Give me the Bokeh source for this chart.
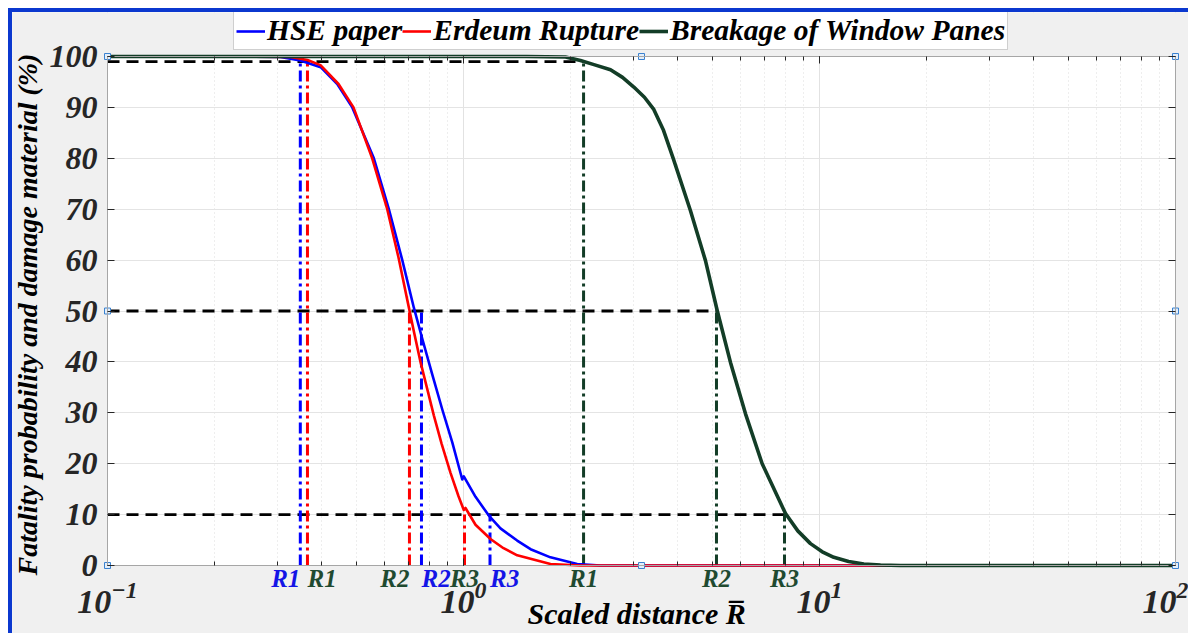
import math
from bokeh.plotting import figure
from bokeh.models import (Range1d, FixedTicker, LogAxis, LinearAxis,
                          Label, Legend, LegendItem, BoxAnnotation)
from bokeh.core.properties import value
from bokeh.embed import file_html
from bokeh.resources import INLINE

# Scaled distance (x) and probability in % (y) for each model
hse_r = [0.1, 0.2, 0.306, 0.348, 0.397, 0.442, 0.487, 0.560, 0.617, 0.673,
         0.725, 0.767, 0.818, 0.873, 0.930, 0.992, 1.002, 1.081, 1.178,
         1.270, 1.415, 1.543, 1.755, 2.086, 2.426, 100]
hse_p = [100, 100, 99.9, 99.2, 97.9, 94.6, 90.0, 80.0, 70.0, 60.0,
         50.7, 44.4, 37.4, 30.5, 24.2, 16.9, 17.5, 13.5, 9.8,
         7.3, 4.9, 3.2, 1.6, 0.3, 0.0, 0.0]

erd_r = [0.1, 0.2, 0.327, 0.3645, 0.3965, 0.4456, 0.4909, 0.554, 0.6106,
         0.6568, 0.6984, 0.7237, 0.7571, 0.8253, 0.8673, 0.9194, 0.9683,
         1.0019, 1.013, 1.0807, 1.1907, 1.2955, 1.4154, 1.7551, 2.1312, 100]
erd_p = [100, 100, 99.9, 99.3, 98.3, 94.6, 90.0, 80.0, 70.0,
         60.5, 51.5, 46.3, 40.0, 29.5, 24.0, 18.2, 13.6,
         10.9, 11.3, 8.0, 5.2, 3.4, 2.0, 0.3, 0.0, 0.0]

win_r = [0.1, 1.5, 1.934, 2.131, 2.325, 2.588, 2.797, 3.009, 3.223, 3.424,
         3.646, 3.882, 4.341, 4.783, 5.160, 5.623, 6.197, 6.902, 8.027,
         8.691, 9.434, 10.18, 10.97, 12.07, 13.32, 14.84, 16.89, 100]
win_p = [100, 100, 99.9, 99.2, 98.4, 97.4, 95.9, 94.0, 92.0, 89.6,
         85.5, 80.0, 69.7, 59.9, 50.1, 39.9, 29.8, 20.0, 10.2,
         6.8, 4.3, 2.7, 1.6, 0.8, 0.3, 0.1, 0.0, 0.0]

# Threshold levels (%) and the distances R1..R3 where each model reaches them
levels = [99, 50, 10]
hse_R = [0.348, 0.762, 1.187]
erd_R = [0.3645, 0.705, 1.0065]
win_R = [2.174, 5.136, 7.974]
r_names = ["R1", "R2", "R3"]

y_ticks = [0, 10, 20, 30, 40, 50, 60, 70, 80, 90, 100]
X_MIN, X_MAX = 0.1, 100
Y_MIN, Y_MAX = 0, 100

BLUE = "#0000ff"
RED = "#ff0000"
GREEN = "#133d27"
LBL_BLUE = "#1414e6"
LBL_GREEN = "#1f4a30"
FONT = "Liberation Serif"
PANEL_BG = "#f0f0f0"
AX_LINE = "#a6a6a6"
TICK = "#262626"

# canvas size and the margins (px) around the axes box
W, H = 1180, 625
M_LEFT, M_RIGHT, M_TOP, M_BOTTOM = 95, 17, 44, 72

# the frame fills the canvas; extend the ranges so the axes box sits inside it
px_per_decade = (W - M_LEFT - M_RIGHT) / (math.log10(X_MAX) - math.log10(X_MIN))
x_lo = 10 ** (math.log10(X_MIN) - M_LEFT / px_per_decade)
x_hi = 10 ** (math.log10(X_MAX) + M_RIGHT / px_per_decade)
px_per_unit = (H - M_TOP - M_BOTTOM) / (Y_MAX - Y_MIN)
y_lo = Y_MIN - M_BOTTOM / px_per_unit
y_hi = Y_MAX + M_TOP / px_per_unit

p = figure(width=W, height=H, x_axis_type="log",
           x_range=Range1d(x_lo, x_hi), y_range=Range1d(y_lo, y_hi),
           output_backend="svg", toolbar_location=None,
           min_border=0, min_border_left=0, min_border_right=0,
           min_border_top=0, min_border_bottom=0)
p.styles = {"border-top": "4px solid #0b38cf", "border-left": "4px solid #0b38cf",
            "margin-top": "8px", "margin-left": "8px"}

p.background_fill_color = PANEL_BG
p.border_fill_color = PANEL_BG
p.outline_line_color = None

# white axes box below the grid, grey margins above the grid
axes_box = BoxAnnotation(left=X_MIN, right=X_MAX, bottom=Y_MIN, top=Y_MAX,
                         fill_color="white", fill_alpha=1, line_color=None,
                         level="underlay")
covers = [BoxAnnotation(right=X_MIN, fill_color=PANEL_BG, fill_alpha=1,
                        line_color=None, level="underlay"),
          BoxAnnotation(left=X_MAX, fill_color=PANEL_BG, fill_alpha=1,
                        line_color=None, level="underlay"),
          BoxAnnotation(bottom=Y_MAX, fill_color=PANEL_BG, fill_alpha=1,
                        line_color=None, level="underlay"),
          BoxAnnotation(top=Y_MIN, fill_color=PANEL_BG, fill_alpha=1,
                        line_color=None, level="underlay")]
p.center = [axes_box] + list(p.center) + covers

# grids
p.xgrid.grid_line_color = "#e2e2e2"
p.xgrid.minor_grid_line_color = "#dcdcdc"
p.xgrid.minor_grid_line_dash = "1 3"
p.ygrid.grid_line_color = "#e4e4e4"

# axes pinned to the edges of the axes box
xax = p.xaxis[0]
yax = p.yaxis[0]
xax.fixed_location = Y_MIN
xax.bounds = (X_MIN, X_MAX)
yax.fixed_location = X_MIN
yax.bounds = (Y_MIN, Y_MAX)
yax.ticker = FixedTicker(ticks=y_ticks)
p.ygrid.ticker = FixedTicker(ticks=y_ticks)

for ax in (xax, yax):
    ax.axis_line_color = AX_LINE
    ax.major_tick_line_color = TICK
    ax.minor_tick_line_color = TICK
    ax.major_tick_in = 7
    ax.major_tick_out = 0
    ax.minor_tick_in = 4
    ax.minor_tick_out = 0
    ax.major_label_text_font = FONT
    ax.major_label_text_font_style = "bold italic"
    ax.major_label_text_color = TICK

yax.major_label_text_font_size = "32px"
yax.major_label_standoff = 10
yax.axis_label = "Fatality probability  and damage material (%)"
yax.axis_label_text_font = FONT
yax.axis_label_text_font_style = "bold italic"
yax.axis_label_text_font_size = "28px"
yax.axis_label_text_color = "black"
yax.axis_label_standoff = 4
yax.minor_tick_line_color = None

xax.major_label_text_font_size = "34px"
xax.major_label_standoff = 16

# box ticks on the top and right edges (labels hidden)
top_ax = LogAxis(ticker=xax.ticker, fixed_location=Y_MAX, bounds=(X_MIN, X_MAX),
                 major_label_text_font_size="1px", major_label_text_alpha=0,
                 axis_line_color=AX_LINE, major_tick_line_color=TICK,
                 minor_tick_line_color=TICK, major_tick_in=7, major_tick_out=0,
                 minor_tick_in=4, minor_tick_out=0, major_label_standoff=0)
p.add_layout(top_ax, "above")
right_ax = LinearAxis(ticker=FixedTicker(ticks=y_ticks), fixed_location=X_MAX,
                      bounds=(Y_MIN, Y_MAX),
                      major_label_text_font_size="1px", major_label_text_alpha=0,
                      axis_line_color=AX_LINE, major_tick_line_color=TICK,
                      major_tick_in=7, major_tick_out=0, minor_tick_line_color=None,
                      major_label_standoff=0)
p.add_layout(right_ax, "right")

# threshold guide lines (horizontal, black dashed)
p.segment(x0=[X_MIN] * 3, y0=levels, x1=win_R, y1=levels,
          line_color="black", line_width=2.8, line_dash="12 7")

# vertical dash-dot markers
DASHDOT = "11 4 3 4"
p.segment(x0=hse_R, y0=[0] * 3, x1=hse_R, y1=levels,
          line_color=BLUE, line_width=3, line_dash=DASHDOT)
p.segment(x0=erd_R, y0=[0] * 3, x1=erd_R, y1=levels,
          line_color=RED, line_width=3, line_dash=DASHDOT)
p.segment(x0=win_R, y0=[0] * 3, x1=win_R, y1=levels,
          line_color=GREEN, line_width=3, line_dash=DASHDOT)

# probability curves
r_hse = p.line(hse_r, hse_p, line_color=BLUE, line_width=2.6, line_join="round")
r_erd = p.line(erd_r, erd_p, line_color=RED, line_width=2.6, line_join="round")
r_win = p.line(win_r, win_p, line_color=GREEN, line_width=3.6, line_join="round")

# small selection handles at the corners and edge midpoints of the axes box
x_mid = math.sqrt(X_MIN * X_MAX)
hx = [X_MIN, x_mid, X_MAX, X_MIN, X_MAX, X_MIN, x_mid, X_MAX]
hy = [Y_MAX, Y_MAX, Y_MAX, (Y_MIN + Y_MAX) / 2, (Y_MIN + Y_MAX) / 2, Y_MIN, Y_MIN, Y_MIN]
p.scatter(hx, hy, marker="square", size=6, fill_color="#e3eefa",
          line_color="#3b82d0", line_width=1)

# R labels just under the x axis
def r_label(x, text, color, align):
    p.text(x=[x], y=[Y_MIN], text=[text], y_offset=13, text_color=color,
           text_align=align, text_baseline="middle", text_font=value(FONT),
           text_font_style="bold italic", text_font_size="25px")

for i, name in enumerate(r_names):
    r_label(hse_R[i], name, LBL_BLUE, "right" if i == 0 else "left")
    r_label(erd_R[i], name, LBL_GREEN, ["left", "right", "center"][i])
    r_label(win_R[i], name, LBL_GREEN, "center")

# x-axis title
p.add_layout(Label(x=515, y=24, x_units="screen", y_units="screen",
                   text="Scaled distance R\u0305", text_align="left",
                   text_baseline="middle", text_font=FONT,
                   text_font_style="bold italic", text_font_size="30px",
                   text_color="black"))

legend = Legend(items=[LegendItem(label="HSE paper", renderers=[r_hse]),
                       LegendItem(label="Erdeum Rupture", renderers=[r_erd]),
                       LegendItem(label="Breakage of Window Panes", renderers=[r_win])],
                orientation="horizontal", location=(221, 587),
                label_text_font=FONT, label_text_font_style="bold italic",
                label_text_font_size="29.5px", label_text_color="black",
                glyph_width=29, glyph_height=30, label_standoff=2, spacing=0,
                padding=2, margin=0, border_line_color="#a0a0a0",
                background_fill_color="white", background_fill_alpha=1)
p.add_layout(legend, "center")

open("out.html", "w").write(file_html(p, INLINE))
